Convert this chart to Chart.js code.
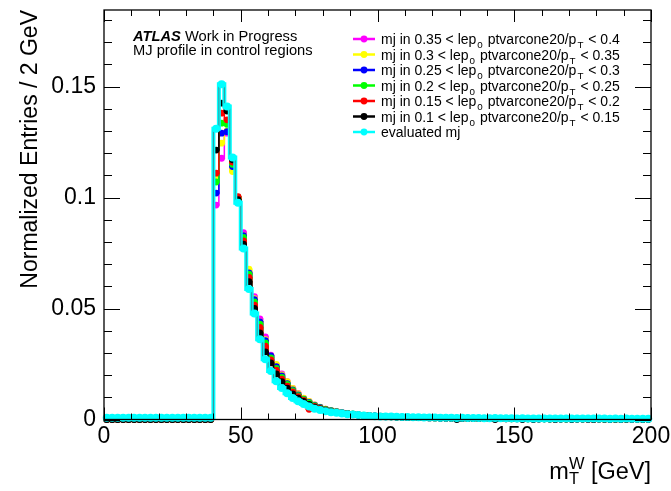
<!DOCTYPE html>
<html>
<head>
<meta charset="utf-8">
<script src="https://cdn.jsdelivr.net/npm/chart.js@4.4.1/dist/chart.umd.min.js"></script>
<style>
  html, body { margin: 0; padding: 0; background: #fff; }
</style>
</head>
<body>
<canvas id="mtw" width="671" height="491"></canvas>
<script>
const FONT = "'Liberation Sans', Arial, Helvetica, sans-serif";

// m_T^W histogram: 100 bins of 2 GeV between 0 and 200 GeV
const binWidth = 2;
const nBins = 100;
const binCenters = Array.from({ length: nBins }, (_, i) => (i + 0.5) * binWidth);

const xTicks = [0, 50, 100, 150, 200];
const yTicks = [0, 0.05, 0.1, 0.15];
const yMax = 0.1845;

const labels = [
  "mj in 0.35 < lep_0 ptvarcone20/p_T < 0.4",
  "mj in 0.3 < lep_0 ptvarcone20/p_T < 0.35",
  "mj in 0.25 < lep_0 ptvarcone20/p_T < 0.3",
  "mj in 0.2 < lep_0 ptvarcone20/p_T < 0.25",
  "mj in 0.15 < lep_0 ptvarcone20/p_T < 0.2",
  "mj in 0.1 < lep_0 ptvarcone20/p_T < 0.15",
  "evaluated mj",
];
const colors = ["#ff00ff", "#ffff00", "#0000ff", "#00ff00", "#ff0000", "#000000", "#00ffff"];

// normalized entries per bin, one array per isolation slice
const mj035 = [
  0, 0, 0, 0, 0, 0, 0, 0, 0, 0, 0, 0, 0, 0, 0, 0, 0, 0, 0, 0,
  0.0966, 0.1177, 0.1290, 0.1130, 0.0990, 0.0842, 0.0665, 0.0554, 0.0453, 0.0372,
  0.0290, 0.0245, 0.0205, 0.0170, 0.0140, 0.0118, 0.0095, 0.0080, 0.0066, 0.0055,
  0.0047, 0.0040, 0.0035, 0.0031, 0.0027, 0.0024, 0.0022, 0.0019, 0.0018, 0.0016,
  0.0015, 0.0014, 0.0013, 0.0012, 0.0012, 0.0011, 0.0010, 0.0010, 0.0009, 0.0009,
  0.0008, 0.0008, 0.0007, 0.0008, 0.0007, 0.0006, 0.0007, 0.0006, 0.0006, 0.0005,
  0.0006, 0.0005, 0.0005, 0.0004, 0.0005, 0.0004, 0.0004, 0.0005, 0.0004, 0.0003,
  0.0004, 0.0003, 0.0003, 0.0004, 0.0003, 0.0003, 0.0002, 0.0003, 0.0003, 0.0002,
  0.0002, 0.0003, 0.0002, 0.0002, 0.0002, 0.0003, 0, 0.0002, 0.0001, 0.0002,
];
const mj030 = [
  0, 0, 0, 0, 0, 0, 0, 0, 0, 0, 0, 0, 0, 0, 0, 0, 0, 0, 0, 0,
  0.1090, 0.1245, 0.1300, 0.1117, 0.0990, 0.0830, 0.0677, 0.0545, 0.0440, 0.0360,
  0.0285, 0.0248, 0.0201, 0.0170, 0.0140, 0.0116, 0.0096, 0.0081, 0.0066, 0.0056,
  0.0047, 0.0041, 0.0036, 0.0031, 0.0028, 0.0025, 0.0022, 0.0020, 0.0018, 0.0016,
  0.0015, 0.0014, 0.0013, 0.0012, 0.0011, 0.0011, 0.0010, 0.0009, 0.0009, 0.0008,
  0.0008, 0.0008, 0.0007, 0.0007, 0.0006, 0.0007, 0.0006, 0.0006, 0.0005, 0.0005,
  0.0005, 0.0005, 0.0004, 0.0005, 0.0004, 0.0004, 0.0004, 0.0003, 0.0004, 0.0003,
  0.0003, 0.0003, 0.0003, 0.0003, 0.0002, 0.0003, 0.0002, 0.0002, 0.0003, 0.0002,
  0.0002, 0.0002, 0.0002, 0.0001, 0.0002, 0.0002, 0.0001, 0.0002, 0.0001, 0.0001,
];
const mj025 = [
  0, 0, 0, 0, 0, 0, 0, 0, 0, 0, 0, 0, 0, 0, 0, 0, 0, 0, 0, 0,
  0.1020, 0.1290, 0.1297, 0.1140, 0.0980, 0.0828, 0.0660, 0.0540, 0.0440, 0.0355,
  0.0286, 0.0238, 0.0196, 0.0162, 0.0133, 0.0111, 0.0092, 0.0077, 0.0064, 0.0054,
  0.0046, 0.0040, 0.0035, 0.0031, 0.0027, 0.0024, 0.0021, 0.0019, 0.0017, 0.0016,
  0.0014, 0.0013, 0.0013, 0.0012, 0.0011, 0.0010, 0.0010, 0.0009, 0.0009, 0.0008,
  0.0008, 0.0007, 0.0007, 0.0007, 0.0006, 0.0006, 0.0006, 0.0005, 0.0005, 0.0005,
  0.0005, 0.0004, 0.0005, 0.0004, 0.0004, 0.0004, 0.0003, 0.0004, 0.0003, 0.0003,
  0.0003, 0.0003, 0.0003, 0.0002, 0.0003, 0.0002, 0.0002, 0.0002, 0.0002, 0.0002,
  0.0002, 0.0002, 0.0001, 0.0002, 0.0001, 0.0002, 0.0001, 0.0001, 0.0001, 0.0001,
];
const mj020 = [
  0, 0, 0, 0, 0, 0, 0, 0, 0, 0, 0, 0, 0, 0, 0, 0, 0, 0, 0, 0,
  0.1070, 0.1335, 0.1330, 0.1150, 0.1002, 0.0820, 0.0655, 0.0530, 0.0430, 0.0345,
  0.0278, 0.0230, 0.0190, 0.0158, 0.0130, 0.0108, 0.0090, 0.0075, 0.0062, 0.0052,
  0.0045, 0.0039, 0.0034, 0.0030, 0.0027, 0.0024, 0.0021, 0.0019, 0.0017, 0.0015,
  0.0014, 0.0013, 0.0012, 0.0011, 0.0011, 0.0010, 0.0009, 0.0009, 0.0008, 0.0008,
  0.0007, 0.0007, 0.0007, 0.0006, 0.0006, 0.0006, 0.0005, 0.0005, 0.0005, 0.0004,
  0.0005, 0.0004, 0.0004, 0.0004, 0.0003, 0.0004, 0.0003, 0.0003, 0.0003, 0.0003,
  0.0003, 0.0002, 0.0003, 0.0002, 0.0002, 0.0002, 0.0002, 0.0002, 0.0002, 0.0001,
  0.0002, 0.0001, 0.0002, 0.0001, 0.0001, 0.0001, 0.0002, 0.0001, 0.0001, 0.0001,
];
const mj015 = [
  0, 0, 0, 0, 0, 0, 0, 0, 0, 0, 0, 0, 0, 0, 0, 0, 0, 0, 0, 0,
  0.1110, 0.1380, 0.1350, 0.1160, 0.1004, 0.0805, 0.0640, 0.0515, 0.0415, 0.0330,
  0.0268, 0.0222, 0.0182, 0.0150, 0.0124, 0.0103, 0.0086, 0.0046, 0.0059, 0.0050,
  0.0043, 0.0037, 0.0033, 0.0029, 0.0026, 0.0023, 0.0021, 0.0018, 0.0017, 0.0015,
  0.0014, 0.0013, 0.0012, 0.0011, 0.0010, 0.0010, 0.0009, 0.0008, 0.0008, 0.0007,
  0.0007, 0.0007, 0.0006, 0.0006, 0.0005, 0.0006, 0.0005, 0.0005, 0.0004, 0.0004,
  0.0004, 0.0004, 0.0004, 0.0003, 0.0004, 0.0003, 0.0003, 0.0003, 0.0003, 0.0002,
  0.0003, 0.0002, 0, 0.0002, 0.0002, 0.0002, 0.0002, 0.0002, 0, 0,
  0.0002, 0.0001, 0.0002, 0.0001, 0, 0.0001, 0.0001, 0.0002, 0.0001, 0.0001,
];
const mj010 = [
  0, 0, 0, 0, 0, 0, 0, 0, 0, 0, 0, 0, 0, 0, 0, 0, 0, 0, 0, 0,
  0.1214, 0.1425, 0.1390, 0.1170, 0.0990, 0.0790, 0.0621, 0.0501, 0.0390, 0.0305,
  0.0255, 0.0205, 0.0171, 0.0141, 0.0115, 0.0096, 0.0081, 0.0068, 0.0056, 0.0048,
  0.0041, 0.0035, 0.0031, 0.0028, 0.0025, 0.0022, 0.0020, 0.0018, 0.0016, 0.0015,
  0.0013, 0.0012, 0.0012, 0.0011, 0.0010, 0.0009, 0.0009, 0.0008, 0.0008, 0.0007,
  0.0007, 0.0006, 0.0006, 0.0006, 0, 0.0005, 0.0005, 0.0005, 0.0004, 0.0004,
  0.0004, 0, 0.0004, 0.0003, 0.0003, 0.0003, 0, 0.0003, 0, 0.0002,
  0.0003, 0.0002, 0, 0.0002, 0.0002, 0, 0.0002, 0.0002, 0.0001, 0,
  0.0002, 0.0001, 0, 0.0001, 0, 0.0001, 0.0001, 0.0002, 0, 0.0001,
];
const evaluated = [
  0.0008, 0.0008, 0.0008, 0.0008, 0.0008, 0.0008, 0.0008, 0.0008, 0.0008, 0.0008,
  0.0008, 0.0008, 0.0008, 0.0008, 0.0008, 0.0008, 0.0008, 0.0008, 0.0008, 0.0008,
  0.1310, 0.1510, 0.1410, 0.1180, 0.0977, 0.0770, 0.0588, 0.0478, 0.0362, 0.0272,
  0.0218, 0.0172, 0.0142, 0.0118, 0.0097, 0.0082, 0.0070, 0.0059, 0.0048, 0.0043,
  0.0037, 0.0033, 0.0030, 0.0027, 0.0024, 0.0022, 0.0020, 0.0018, 0.0016, 0.0015,
  0.0014, 0.0013, 0.0013, 0.0012, 0.0011, 0.0011, 0.0010, 0.0010, 0.0009, 0.0009,
  0.0009, 0.0008, 0.0008, 0.0008, 0.0007, 0.0008, 0.0007, 0.0007, 0.0007, 0.0006,
  0.0006, 0.0007, 0.0006, 0.0006, 0.0006, 0.0005, 0.0006, 0.0005, 0.0005, 0.0005,
  0.0005, 0.0005, 0.0004, 0.0005, 0.0004, 0.0005, 0.0004, 0.0004, 0.0004, 0.0004,
  0.0004, 0.0004, 0.0003, 0.0004, 0.0003, 0.0004, 0.0003, 0.0003, 0.0003, 0.0003,
];

const slices = [mj035, mj030, mj025, mj020, mj015, mj010];

function toPoints(vals) {
  return vals.map(function (v, j) { return { x: binCenters[j], y: v }; });
}

var datasets = [];
slices.forEach(function (vals, i) {
  datasets.push({
    label: labels[i],
    data: toPoints(vals),
    borderColor: colors[i],
    backgroundColor: colors[i],
    pointBorderColor: colors[i],
    pointBackgroundColor: colors[i],
    pointBorderWidth: 0,
    pointRadius: 3.4,
    borderWidth: 1.5,
    stepped: "middle",
    order: 20 - i,
    clip: false,
  });
});
// evaluated mj: wide cyan step, thin teal core, cyan markers on top
datasets.push({
  label: labels[6],
  data: toPoints(evaluated),
  borderColor: colors[6],
  pointRadius: 0,
  borderWidth: 4,
  stepped: "middle",
  order: 3,
  clip: false,
});
datasets.push({
  label: "",
  data: toPoints(evaluated),
  borderColor: "#3c8f96",
  pointRadius: 0,
  borderWidth: 1,
  stepped: "middle",
  order: 2,
  clip: false,
});
datasets.push({
  label: "",
  data: toPoints(evaluated),
  showLine: false,
  pointBackgroundColor: colors[6],
  pointBorderColor: colors[6],
  pointBorderWidth: 0,
  pointRadius: 4,
  order: 1,
  clip: false,
});

// draws "a_b" with b as a subscript
function drawRich(ctx, text, x, y, size) {
  var parts = text.split(/_(.)/);
  parts.forEach(function (p, k) {
    if (k % 2 === 1) {
      ctx.font = (size * 0.7) + "px " + FONT;
      ctx.fillText(p, x + 1, y + size * 0.3);
      x += 2;
    } else {
      ctx.font = size + "px " + FONT;
      ctx.fillText(p, x, y);
    }
    x += ctx.measureText(p).width;
  });
}

const atlasDecor = {
  id: "atlasDecor",
  afterDatasetsDraw: function (chart) {
    var ctx = chart.ctx;
    var a = chart.chartArea;
    var xs = chart.scales.x, ys = chart.scales.y;
    ctx.save();
    ctx.strokeStyle = "#000";
    ctx.lineWidth = 1.3;
    ctx.strokeRect(a.left, a.top, a.right - a.left, a.bottom - a.top);
    ctx.lineWidth = 1;
    ctx.beginPath();
    for (var v = 0; v <= 200; v += 10) {
      var px = Math.round(xs.getPixelForValue(v)) + 0.5;
      var len = v % 50 === 0 ? 12 : 6;
      ctx.moveTo(px, a.bottom); ctx.lineTo(px, a.bottom - len);
      ctx.moveTo(px, a.top); ctx.lineTo(px, a.top + len);
    }
    for (var k = 0; k <= 18; k++) {
      var py = Math.round(ys.getPixelForValue(k / 100)) + 0.5;
      var l2 = k % 5 === 0 ? 16 : 8;
      ctx.moveTo(a.left, py); ctx.lineTo(a.left + l2, py);
      ctx.moveTo(a.right, py); ctx.lineTo(a.right - l2, py);
    }
    ctx.stroke();
    ctx.restore();
  },
  afterDraw: function (chart) {
    var ctx = chart.ctx;
    var a = chart.chartArea;
    ctx.save();
    ctx.fillStyle = "#000";
    ctx.textBaseline = "alphabetic";

    // header
    ctx.font = "italic bold 14.7px " + FONT;
    ctx.fillText("ATLAS", 133, 41);
    var w = ctx.measureText("ATLAS ").width;
    ctx.font = "14.7px " + FONT;
    ctx.fillText("Work in Progress", 133 + w, 41);
    ctx.fillText("MJ profile in control regions", 133, 55);

    // legend
    labels.forEach(function (lab, i) {
      var y = 39 + i * 15.5;
      ctx.strokeStyle = colors[i];
      ctx.lineWidth = 2.5;
      ctx.beginPath();
      ctx.moveTo(353, y); ctx.lineTo(375, y);
      ctx.stroke();
      ctx.fillStyle = colors[i];
      ctx.beginPath();
      ctx.arc(364, y, 3.4, 0, Math.PI * 2);
      ctx.fill();
      ctx.fillStyle = "#000";
      drawRich(ctx, lab, 381, y + 5, 14);
    });

    // y title
    ctx.save();
    ctx.translate(37, a.top);
    ctx.rotate(-Math.PI / 2);
    ctx.font = "23px " + FONT;
    ctx.textAlign = "right";
    ctx.fillText("Normalized Entries / 2 GeV", 0, 0);
    ctx.restore();

    // x title m_T^W [GeV], right aligned to the frame
    var s = 23.5, ss = s * 0.7;
    ctx.font = s + "px " + FONT;
    var wm = ctx.measureText("m").width;
    var wr = ctx.measureText(" [GeV]").width;
    ctx.font = ss + "px " + FONT;
    var wsub = Math.max(ctx.measureText("W").width, ctx.measureText("T").width);
    var x0 = a.right - (wm + wsub + wr);
    var yb = 479;
    ctx.font = s + "px " + FONT;
    ctx.fillText("m", x0, yb);
    ctx.font = ss + "px " + FONT;
    ctx.fillText("W", x0 + wm, yb - s * 0.42);
    ctx.fillText("T", x0 + wm, yb + s * 0.22);
    ctx.font = s + "px " + FONT;
    ctx.fillText(" [GeV]", x0 + wm + wsub, yb);
    ctx.restore();
  },
};

var ctx = document.getElementById("mtw").getContext("2d");
var mtwChart = new Chart(ctx, {
  type: "line",
  data: { datasets: datasets },
  options: {
    responsive: false,
    animation: false,
    events: [],
    layout: { padding: { top: 10, right: 20, left: 0, bottom: 0 } },
    plugins: { legend: { display: false }, tooltip: { enabled: false } },
    scales: {
      x: {
        type: "linear",
        min: 0,
        max: 200,
        grid: { display: false, drawTicks: false },
        border: { display: false },
        afterBuildTicks: function (axis) { axis.ticks = xTicks.map(function (v) { return { value: v }; }); },
        afterFit: function (axis) {
          axis.height = 71.5;
          axis.paddingLeft = 0;
          axis.paddingRight = 0;
        },
        ticks: {
          font: { family: FONT, size: 23 }, color: "#000", padding: 3, maxRotation: 0, autoSkip: false,
          callback: function (v) { return String(v); },
        },
      },
      y: {
        type: "linear",
        min: 0,
        max: yMax,
        grid: { display: false, drawTicks: false },
        border: { display: false },
        afterBuildTicks: function (axis) { axis.ticks = yTicks.map(function (v) { return { value: v }; }); },
        afterFit: function (axis) {
          axis.width = 104;
          axis.paddingTop = 0;
          axis.paddingBottom = 0;
        },
        ticks: {
          font: { family: FONT, size: 23 }, color: "#000", padding: 8,
          callback: function (v) { return String(v); },
        },
      },
    },
  },
  plugins: [atlasDecor],
});
</script>
</body>
</html>
